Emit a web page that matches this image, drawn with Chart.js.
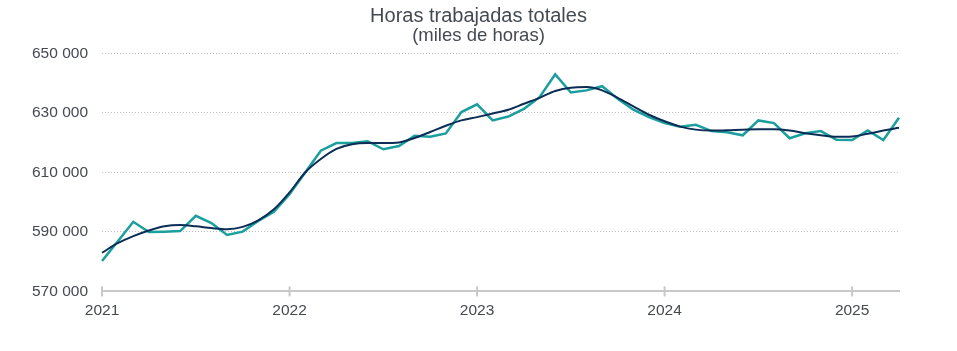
<!DOCTYPE html>
<html>
<head>
<meta charset="utf-8">
<script src="https://cdn.jsdelivr.net/npm/chart.js@4/dist/chart.umd.min.js"></script>
<style>
  html, body { margin: 0; padding: 0; background: #fff; }
  #wrap { width: 957px; height: 351px; }
</style>
</head>
<body>
<div id="wrap"><canvas id="chart" width="957" height="351"></canvas></div>
<script>
(function () {
    'use strict';

    // Months Jan 2021 .. Apr 2025
    var MONTHS = [];
    for (var y = 2021; y <= 2025; y++) {
        for (var m = 1; m <= 12; m++) {
            if (y === 2025 && m > 4) break;
            MONTHS.push(y + '-' + (m < 10 ? '0' + m : m));
        }
    }

    var Y_TICKS = [570000, 590000, 610000, 630000, 650000];

    // Horas trabajadas (serie original), miles de horas
    var HOURS = [
        580200, 586800, 593400, 590000, 590100, 590300, 595400, 593000, 589000, 590100, 593700, 596800,
        602700, 610000, 617300, 619900, 619900, 620500, 617800, 618900, 622300, 622000, 623100, 630300,
        632900, 627500, 628800, 631400, 635300, 643000, 636900, 637600, 639000, 634800, 631100, 628600,
        626600, 625400, 626000, 623900, 623500, 622500, 627500, 626600, 621500, 623200, 623900, 621000,
        620900, 624100, 620900, 628400
    ];

    // Tendencia
    var TREND = [
        583000, 586200, 588600, 590500, 591900, 592300, 591900, 591300, 590900, 591700, 593900, 597600,
        603300, 610000, 614500, 617900, 619500, 619900, 619900, 620100, 621600, 623600, 625700, 627500,
        628600, 629800, 631100, 633100, 635100, 637400, 638500, 638700, 637600, 635100, 632200, 629400,
        627200, 625400, 624400, 624100, 624200, 624400, 624500, 624500, 624100, 623200, 622500, 622000,
        622100, 623000, 624100, 625000
    ];

    var COLORS = {
        teal: '#1a9e9e',
        navy: '#0c2d55',
        text: '#444a52',
        grid: '#bdbdbd',
        axis: '#c8c8c8'
    };

    var FONT = "'Liberation Sans', Arial, sans-serif";

    function formatNumber(v) {
        return String(Math.round(v)).replace(/\B(?=(\d{3})+(?!\d))/g, ' ');
    }

    // year tick marks crossing the x axis line
    var yearMarks = {
        id: 'yearMarks',
        afterDraw: function (chart) {
            var xs = chart.scales.x;
            var ctx = chart.ctx;
            var base = chart.chartArea.bottom;
            ctx.save();
            ctx.strokeStyle = COLORS.axis;
            ctx.lineWidth = 2;
            xs.ticks.forEach(function (t, i) {
                var px = xs.getPixelForTick(i);
                ctx.beginPath();
                ctx.moveTo(px, base - 5);
                ctx.lineTo(px, base + 5);
                ctx.stroke();
            });
            ctx.restore();
        }
    };

    Chart.defaults.font.family = FONT;
    Chart.defaults.color = COLORS.text;

    new Chart(document.getElementById('chart').getContext('2d'), {
        type: 'line',
        data: {
            labels: MONTHS,
            datasets: [{
                label: 'Horas trabajadas',
                data: HOURS,
                borderColor: COLORS.teal,
                borderWidth: 2.5,
                pointRadius: 0,
                tension: 0,
                order: 2
            }, {
                label: 'Tendencia',
                data: TREND,
                borderColor: COLORS.navy,
                borderWidth: 2,
                pointRadius: 0,
                cubicInterpolationMode: 'monotone',
                order: 1
            }]
        },
        options: {
            responsive: false,
            animation: false,
            layout: { padding: { left: 18, right: 18, top: 0, bottom: 29 } },
            plugins: {
                legend: { display: false },
                tooltip: { enabled: false },
                title: {
                    display: true,
                    text: 'Horas trabajadas totales',
                    color: COLORS.text,
                    font: { size: 20, weight: 'normal', family: FONT, lineHeight: 1 },
                    padding: { top: 6, bottom: 0 }
                },
                subtitle: {
                    display: true,
                    text: '(miles de horas)',
                    color: COLORS.text,
                    font: { size: 18.5, weight: 'normal', family: FONT, lineHeight: 1 },
                    padding: { top: 1, bottom: 8 }
                }
            },
            scales: {
                x: {
                    offset: false,
                    grid: { display: false },
                    border: { display: true, color: COLORS.axis, width: 2 },
                    ticks: {
                        autoSkip: false,
                        maxRotation: 0,
                        padding: 2,
                        font: { size: 15.5 },
                        callback: function (val, i) {
                            var lbl = MONTHS[i];
                            return lbl.slice(5) === '01' ? lbl.slice(0, 4) : null;
                        }
                    }
                },
                y: {
                    min: Y_TICKS[0],
                    max: Y_TICKS[Y_TICKS.length - 1],
                    border: { display: false, dash: [1, 2] },
                    grid: {
                        color: COLORS.grid,
                        lineWidth: 1,
                        drawTicks: false
                    },
                    ticks: {
                        stepSize: 20000,
                        padding: 14,
                        font: { size: 15.5 },
                        callback: function (v) { return formatNumber(v); }
                    }
                },
                // empty right gutter so the title stays centred on the page
                gutter: {
                    position: 'right',
                    display: true,
                    grid: { display: false },
                    border: { display: false },
                    ticks: { display: false },
                    afterFit: function (scale) { scale.width = 40; }
                }
            }
        },
        plugins: [yearMarks]
    });
})();
</script>
</body>
</html>
